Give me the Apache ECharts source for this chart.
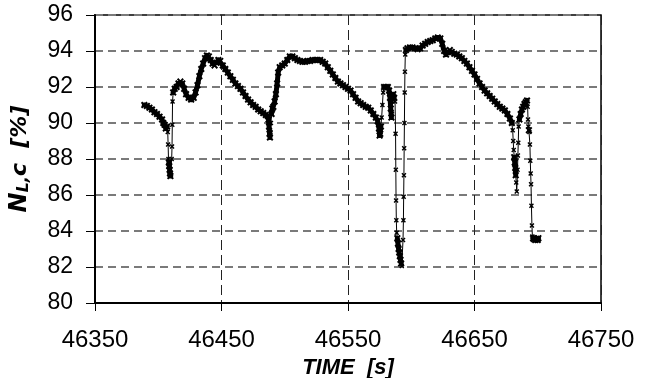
<!DOCTYPE html>
<html>
<head>
<meta charset="utf-8">
<script src="https://cdn.jsdelivr.net/npm/echarts@6/dist/echarts.min.js"></script>
<style>html,body{margin:0;padding:0;background:#fff;}#c{width:653px;height:378px;}</style>
</head>
<body>
<div id="c"></div>
<script>
// time [s]
var times = [
46389,46391,46393,46395,46397,46399,46401,46403,46404,46405,46406,46407,
46407.5,46407.8,46408.1,46408.4,46408.7,46409.0,46409.3,46409.6,46410.0,
46410.6,46410.9,46411.1,46411.3,46411.8,46413,46414.5,46416,46417.5,46419,46420.5,46422,46424,46426,46428,46429.5,46431,46432.5,46434,46435.5,46437,46438.5,46440,46441.5,46443,46444.5,46446,46447.5,46449,
46451,46453,46455,46457,46459,46461,46463,46465,46467,46469,46471,46473,46475,46477,46479,46481,46483,46485,46486.5,
46487.2,46487.6,46488.0,46488.3,46488.7,46489.1,46489.6,46490.2,
46491,46492,46493,46494,46494.8,46496,46498,46500,46502,46504,46506,46508,46510,46512,46514,46516,46518,46520,46522,46524,46526,46528,46530,46532,46534,46536,46538,46540,46542,46544,46546,46548,46550,46552,46554,46556,46558,46560,46562,46564,46566,46568,46570,46572,46573.5,46574.5,46575,46575.5,46576,46576.6,46577.2,46577.8,46578.5,46580,46581.5,46582.5,46583.2,46583.8,46584.3,46584.7,46585.2,46585.8,46586.5,46587.2,
46587.6,46587.8,46588.0,46588.2,46588.5,46589.0,46589.5,46590.0,46590.5,46591.0,46591.5,46592.0,46592.5,
46593.5,46593.8,46594.0,46594.2,46594.4,46594.6,46594.8,46595.0,46595.3,46595.8,
46597,46599,46601,46603,46605,46607,46609,46611,46613,46615,46617,46619,46621,46623,46624.5,46626,46627.5,46629,46630.5,46632,46634,46636,46638,46640,46642,46644,46646,46648,46650,46652,46654,46656,46658,46660,46662,46664,46666,46668,46670,46672,46674,46676,46678,46679.5,
46680.2,46680.6,46681.0,46681.4,46681.8,46682.2,46682.6,46683.0,46683.4,
46684.0,46684.3,46684.6,46684.9,46685.5,46686.5,46687.5,46688.5,46689.5,46690.5,46691.5,46692.0,46692.3,46692.6,46693.0,46693.4,
46693.8,46694.1,46694.4,46694.7,46695.0,46695.4,46695.8,46696.3,46697,46698,46699,46700,46700.5
];
// N_L,c [%]
var nlc = [
91.0,90.95,90.85,90.75,90.6,90.5,90.35,90.2,90.0,89.9,89.7,89.8,
89.5,88.8,88.0,87.8,87.6,87.4,87.2,87.05,87.1,
88.0,88.7,89.9,91.2,91.7,91.9,92.0,92.2,92.3,92.2,91.9,91.6,91.4,91.3,91.4,91.7,92.1,92.6,93.0,93.3,93.6,93.75,93.7,93.5,93.3,93.2,93.35,93.5,93.45,
93.2,93.0,92.8,92.6,92.4,92.2,92.05,91.9,91.7,91.5,91.3,91.15,91.0,90.9,90.75,90.65,90.55,90.45,90.4,
90.2,89.8,89.4,89.2,89.5,90.0,90.5,90.8,
90.9,91.2,91.6,92.2,92.8,93.1,93.2,93.3,93.5,93.7,93.7,93.6,93.5,93.45,93.4,93.4,93.45,93.45,93.5,93.5,93.5,93.5,93.4,93.3,93.1,92.9,92.7,92.5,92.3,92.2,92.1,92.0,91.9,91.8,91.6,91.4,91.2,91.1,91.0,90.9,90.85,90.7,90.5,90.3,90.1,89.7,89.3,89.4,89.8,90.3,91.0,91.7,92.0,92.0,92.0,91.8,91.4,90.8,90.3,90.5,91.2,91.6,91.4,91.2,
89.4,87.4,85.7,84.6,83.9,83.6,83.3,83.0,82.8,82.6,82.4,82.2,82.05,
83.5,84.6,85.9,87.1,88.6,90.0,91.7,92.85,93.8,94.05,
94.15,94.2,94.2,94.15,94.1,94.15,94.3,94.4,94.5,94.55,94.6,94.7,94.75,94.7,94.4,94.0,93.8,93.95,94.05,93.95,93.85,93.8,93.7,93.6,93.45,93.3,93.1,92.9,92.7,92.45,92.2,92.0,91.8,91.65,91.5,91.35,91.2,91.05,90.9,90.8,90.7,90.5,90.25,90.0,
89.6,89.0,88.5,88.1,87.8,87.5,87.1,86.7,86.2,
87.4,88.2,88.9,89.8,90.2,90.5,90.75,90.9,91.05,91.15,91.25,90.9,90.2,89.8,89.6,89.5,
88.8,87.9,87.2,86.6,85.4,84.3,83.7,83.6,83.55,83.5,83.55,83.5,83.6
];
var xTicks = [46350, 46750, 100];
var yTicks = [80, 96, 2];

var data = times.map(function (t, i) { return [t, nlc[i]]; });

// slope of each segment, used only to style the dense (smooth) part of the trace
function segSlope(i) {
  return Math.abs((nlc[i + 1] - nlc[i]) / (times[i + 1] - times[i]));
}
var STEEP = 1.0;
var smooth = times.map(function (t, i) {
  var left = i === 0 ? 0 : segSlope(i - 1);
  var right = i === times.length - 1 ? 0 : segSlope(i);
  return left <= STEEP && right <= STEEP;
});
var bandData = data.map(function (d, i) { return smooth[i] ? d : [d[0], null]; });

var xMark = 'path://M0,2L2,0L5,3L8,0L10,2L7,5L10,8L8,10L5,7L2,10L0,8L3,5Z';
var FONT = '"Liberation Sans", Arial, sans-serif';
var TFONT = '"DejaVu Sans", sans-serif';

var chart = echarts.init(document.getElementById('c'));
chart.setOption({
  animation: false,
  backgroundColor: '#fff',
  grid: { left: 95, right: 52, top: 15, bottom: 75, containLabel: false, outerBoundsMode: 'none',
          show: true, borderColor: '#000', borderWidth: 1.5, backgroundColor: 'transparent' },
  xAxis: {
    type: 'value', min: xTicks[0], max: xTicks[1], interval: xTicks[2],
    name: 'TIME  [s]', nameLocation: 'middle', nameGap: 48,
    nameTextStyle: { fontFamily: FONT, fontSize: 22, fontWeight: 'bold', fontStyle: 'italic', color: '#000' },
    axisLine: { lineStyle: { color: '#000', width: 2 } },
    axisTick: { show: true, inside: false, length: 8, lineStyle: { color: '#000', width: 1 } },
    axisLabel: { fontFamily: FONT, fontSize: 24, color: '#000', margin: 25, formatter: function (v) { return String(v); } },
    splitLine: { show: true, lineStyle: { color: '#222', width: 1, type: [10, 5] } }
  },
  yAxis: {
    type: 'value', min: yTicks[0], max: yTicks[1], interval: yTicks[2],
    name: '{a|N}{b|L,}{c|c  [%]}', nameLocation: 'middle', nameGap: 63, nameRotate: 90,
    nameTextStyle: {
      fontFamily: TFONT, fontSize: 23, fontWeight: 'bold', fontStyle: 'italic', color: '#000',
      rich: {
        a: { fontFamily: TFONT, fontSize: 24, fontWeight: 'bold', fontStyle: 'italic', color: '#000' },
        b: { fontFamily: TFONT, fontSize: 16, fontWeight: 'bold', fontStyle: 'italic', color: '#000', padding: [8, 0, 0, 0] },
        c: { fontFamily: TFONT, fontSize: 22, fontWeight: 'bold', fontStyle: 'italic', color: '#000' }
      }
    },
    axisLine: { show: true, lineStyle: { color: '#000', width: 2 } },
    axisTick: { show: true, inside: false, length: 9, lineStyle: { color: '#000', width: 1 } },
    axisLabel: { fontFamily: FONT, fontSize: 23, color: '#000', margin: 22 },
    splitLine: { show: true, lineStyle: { color: '#7a7a7a', width: 2, type: [8, 5] } }
  },
  series: [{
    type: 'line',
    data: bandData,
    showSymbol: false,
    connectNulls: false,
    lineStyle: { color: '#000', width: 5, cap: 'round', join: 'round' },
    silent: true,
    z: 4
  }, {
    type: 'line',
    data: data,
    showSymbol: true,
    showAllSymbol: true,
    symbol: xMark,
    symbolSize: function (v, p) { return smooth[p.dataIndex] ? 7 : 5; },
    itemStyle: { color: '#000' },
    lineStyle: { color: '#000', width: 1 },
    z: 5
  }]
});
</script>
</body>
</html>
